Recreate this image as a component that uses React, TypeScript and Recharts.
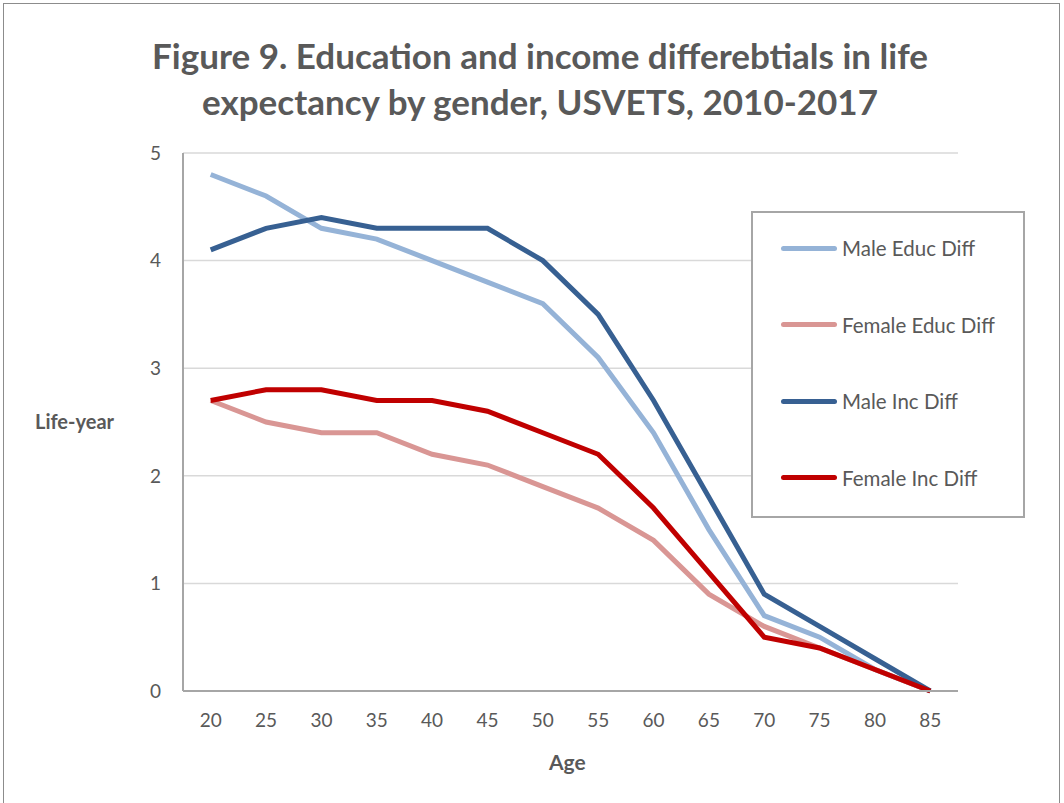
import { CartesianGrid, Line, LineChart, XAxis, YAxis } from "recharts"

const ages = ["20", "25", "30", "35", "40", "45", "50", "55", "60", "65", "70", "75", "80", "85"]
const maleEduc = [4.8, 4.6, 4.3, 4.2, 4.0, 3.8, 3.6, 3.1, 2.4, 1.5, 0.7, 0.5, 0.2, 0]
const femaleEduc = [2.7, 2.5, 2.4, 2.4, 2.2, 2.1, 1.9, 1.7, 1.4, 0.9, 0.6, 0.4, 0.2, 0]
const maleInc = [4.1, 4.3, 4.4, 4.3, 4.3, 4.3, 4.0, 3.5, 2.7, 1.8, 0.9, 0.6, 0.3, 0]
const femaleInc = [2.7, 2.8, 2.8, 2.7, 2.7, 2.6, 2.4, 2.2, 1.7, 1.1, 0.5, 0.4, 0.2, 0]
const yTicks = [0, 1, 2, 3, 4, 5]

const series = [
  { key: "maleEduc", name: "Male Educ Diff", color: "#95b3d7" },
  { key: "femaleEduc", name: "Female Educ Diff", color: "#d99694" },
  { key: "maleInc", name: "Male Inc Diff", color: "#376092" },
  { key: "femaleInc", name: "Female Inc Diff", color: "#c00000" },
]

const data = ages.map((age, i) => ({
  age,
  maleEduc: maleEduc[i],
  femaleEduc: femaleEduc[i],
  maleInc: maleInc[i],
  femaleInc: femaleInc[i],
}))

const font = "Lato, 'Open Sans', sans-serif"
const textColor = "#595959"

// legend drawn as an overlay so it does not eat into the plot area
function LegendBox() {
  return (
    <div
      style={{
        position: "absolute",
        left: 751,
        top: 211,
        width: 270,
        height: 303,
        border: "2px solid #a6a6a6",
        background: "#fff",
      }}
    >
      {series.map((s, i) => (
        <div
          key={s.key}
          style={{
            position: "absolute",
            left: 28,
            top: 23 + i * 76.5,
            display: "flex",
            alignItems: "center",
            fontFamily: font,
            fontSize: 20.5,
            color: textColor,
            whiteSpace: "nowrap",
          }}
        >
          <div
            style={{
              width: 56,
              height: 5,
              borderRadius: 3,
              background: s.color,
              marginRight: 5,
            }}
          />
          <span>{s.name}</span>
        </div>
      ))}
    </div>
  )
}

export default function App() {
  return (
    <div
      style={{
        position: "fixed",
        left: 0,
        top: 0,
        width: 1064,
        height: 803,
        background: "#fff",
        overflow: "hidden",
      }}
    >
      <div
        style={{
          position: "absolute",
          left: 3,
          top: 3,
          width: 1055,
          height: 820,
          border: "1px solid #8c8c8c",
        }}
      />
      <div
        style={{
          position: "absolute",
          left: 0,
          top: 32,
          width: 1080,
          textAlign: "center",
          fontFamily: font,
          fontWeight: 700,
          fontSize: 35,
          lineHeight: "46px",
          color: textColor,
        }}
      >
        Figure 9. Education and income differebtials in life
        <br />
        expectancy by gender, USVETS, 2010-2017
      </div>
      <div
        style={{
          position: "absolute",
          left: 35,
          top: 409,
          fontFamily: font,
          fontWeight: 700,
          fontSize: 20,
          color: textColor,
        }}
      >
        Life-year
      </div>
      <div
        style={{
          position: "absolute",
          left: 549,
          top: 749,
          fontFamily: font,
          fontWeight: 700,
          fontSize: 21,
          color: textColor,
        }}
      >
        Age
      </div>
      <div style={{ position: "absolute", left: 0, top: 0 }}>
        <LineChart
          width={1064}
          height={803}
          data={data}
          margin={{ top: 153, right: 106, bottom: 0, left: 0 }}
        >
          <CartesianGrid stroke="#d9d9d9" strokeWidth={1.5} vertical={false} />
          <XAxis
            dataKey="age"
            height={112}
            padding={{ left: 27.7, right: 27.7 }}
            axisLine={{ stroke: "#a6a6a6", strokeWidth: 2 }}
            tickLine={false}
            tickSize={0}
            tickMargin={23}
            tick={{ fill: textColor, fontSize: 19, fontFamily: font }}
          />
          <YAxis
            width={183}
            domain={[0, 5]}
            ticks={yTicks}
            axisLine={{ stroke: "#a6a6a6", strokeWidth: 2 }}
            tickLine={false}
            tickSize={0}
            tickMargin={22}
            tick={{ fill: textColor, fontSize: 19, fontFamily: font }}
          />
          {series.map((s) => (
            <Line
              key={s.key}
              type="linear"
              dataKey={s.key}
              name={s.name}
              stroke={s.color}
              strokeWidth={5}
              dot={false}
              activeDot={false}
              isAnimationActive={false}
            />
          ))}
        </LineChart>
      </div>
      <LegendBox />
    </div>
  )
}
